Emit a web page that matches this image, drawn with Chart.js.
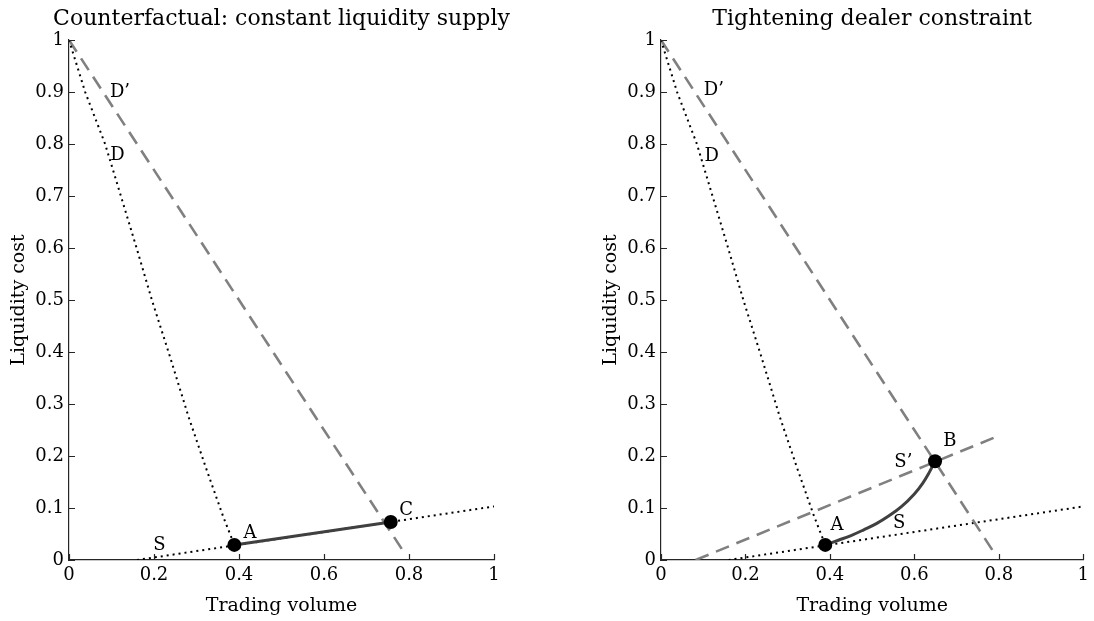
<!DOCTYPE html>
<html>
<head>
<meta charset="utf-8">
<title>Liquidity supply and demand</title>
<script src="https://cdn.jsdelivr.net/npm/chart.js@4"></script>
<style>
    html, body {
        margin: 0;
        padding: 0;
        background: #ffffff;
    }
    #wrap {
        position: relative;
        width: 1094px;
        height: 621px;
    }
    canvas {
        position: absolute;
        top: 0;
    }
    #left-chart { left: 0; }
    #right-chart { left: 547px; }
</style>
</head>
<body>
<div id="wrap">
    <canvas id="left-chart" width="547" height="621"></canvas>
    <canvas id="right-chart" width="547" height="621"></canvas>
</div>
<script>
// ticks
const xTicks = [0, 0.2, 0.4, 0.6, 0.8, 1];
const yTicks = [0, 0.1, 0.2, 0.3, 0.4, 0.5, 0.6, 0.7, 0.8, 0.9, 1];

// demand D (dotted)
const demandX = [0, 0.038, 0.085, 0.122, 0.159, 0.195, 0.238, 0.281, 0.324, 0.363, 0.389];
const demandY = [1, 0.9, 0.8, 0.7, 0.6, 0.5, 0.39, 0.276, 0.173, 0.083, 0.029];

// shifted demand D' (dashed)
const demandShiftX = [0, 0.79];
const demandShiftY = [1, 0.0125];

// supply S (dotted)
const supplyX = [0.16, 1];
const supplyY = [0, 0.103];

// shifted supply S' (dashed, right panel)
const supplyShiftX = [0.082, 0.791];
const supplyShiftY = [0, 0.236];

// left panel: path A -> C
const pathACX = [0.389, 0.757];
const pathACY = [0.029, 0.073];

// right panel: path A -> B
const pathABX = [0.389, 0.42, 0.45, 0.48, 0.51, 0.54, 0.57, 0.60, 0.62, 0.635, 0.649];
const pathABY = [0.029, 0.038, 0.047, 0.058, 0.070, 0.085, 0.103, 0.127, 0.148, 0.168, 0.19];

// equilibrium points
const leftPointX = [0.389, 0.757];
const leftPointY = [0.029, 0.073];
const rightPointX = [0.389, 0.649];
const rightPointY = [0.029, 0.19];

// text labels
const leftLabelText = ["D\u2019", "D", "S", "A", "C"];
const leftLabelX = [0.12, 0.114, 0.2125, 0.426, 0.793];
const leftLabelY = [0.90, 0.779, 0.029, 0.051, 0.096];
const rightLabelText = ["D\u2019", "D", "S\u2019", "S", "A", "B"];
const rightLabelX = [0.125, 0.12, 0.574, 0.564, 0.417, 0.684];
const rightLabelY = [0.904, 0.777, 0.187, 0.0705, 0.066, 0.2275];

const leftTitle = 'Counterfactual: constant liquidity supply';
const rightTitle = 'Tightening dealer constraint';
const xTitle = 'Trading volume';
const yTitle = 'Liquidity cost';

const FONT = '"DejaVu Serif", serif';
const AXIS_COLOR = '#262626';

function toPoints(xs, ys) {
    return xs.map((x, i) => ({ x: x, y: ys[i] }));
}

function dottedLine(xs, ys) {
    return {
        data: toPoints(xs, ys),
        showLine: true,
        borderColor: '#000000',
        borderWidth: 2,
        borderDash: [2, 4],
        pointRadius: 0,
        fill: false
    };
}

function dashedLine(xs, ys) {
    return {
        data: toPoints(xs, ys),
        showLine: true,
        borderColor: '#808080',
        borderWidth: 2.6,
        borderDash: [14, 8],
        pointRadius: 0,
        fill: false
    };
}

function solidPath(xs, ys) {
    return {
        data: toPoints(xs, ys),
        showLine: true,
        borderColor: '#404040',
        borderWidth: 3,
        pointRadius: 0,
        tension: 0.4,
        fill: false
    };
}

function markers(xs, ys) {
    return {
        data: toPoints(xs, ys),
        showLine: false,
        pointRadius: 7,
        pointBackgroundColor: '#000000',
        pointBorderWidth: 0
    };
}

// inward ticks, point labels and panel title
const decorations = {
    id: 'decorations',
    afterDraw(chart, args, opts) {
        const ctx = chart.ctx;
        const area = chart.chartArea;
        const xs = chart.scales.x;
        const ys = chart.scales.y;
        ctx.save();
        ctx.strokeStyle = AXIS_COLOR;
        ctx.lineWidth = 1.2;
        ctx.beginPath();
        xTicks.forEach(v => {
            const px = Math.round(xs.getPixelForValue(v)) + 0.5;
            ctx.moveTo(px, area.bottom);
            ctx.lineTo(px, area.bottom - 6);
        });
        yTicks.forEach(v => {
            const py = Math.round(ys.getPixelForValue(v)) + 0.5;
            ctx.moveTo(area.left, py);
            ctx.lineTo(area.left + 6, py);
        });
        ctx.stroke();

        ctx.fillStyle = '#000000';
        ctx.textAlign = 'center';
        ctx.textBaseline = 'middle';
        ctx.font = '18px ' + FONT;
        opts.text.forEach((t, i) => {
            ctx.fillText(t, xs.getPixelForValue(opts.x[i]), ys.getPixelForValue(opts.y[i]));
        });

        ctx.font = '22px ' + FONT;
        ctx.textBaseline = 'alphabetic';
        ctx.fillText(opts.title, (area.left + area.right) / 2, area.top - 15);
        ctx.restore();
    }
};

function tickText(v) {
    return String(Math.round(v * 10) / 10);
}

function makeChart(canvasId, datasets, labels, title, padding) {
    const ctx = document.getElementById(canvasId).getContext('2d');
    return new Chart(ctx, {
        type: 'scatter',
        data: { datasets: datasets },
        options: {
            responsive: false,
            animation: false,
            devicePixelRatio: 1,
            events: [],
            layout: { padding: padding },
            plugins: {
                legend: { display: false },
                tooltip: { enabled: false },
                decorations: {
                    text: labels.text,
                    x: labels.x,
                    y: labels.y,
                    title: title
                }
            },
            scales: {
                x: {
                    type: 'linear',
                    min: 0,
                    max: 1,
                    afterFit: s => { s.height = 61; },
                    afterBuildTicks: s => { s.ticks = xTicks.map(v => ({ value: v })); },
                    grid: { display: false, drawTicks: false },
                    border: { display: true, color: AXIS_COLOR, width: 1.2 },
                    ticks: {
                        padding: 5,
                        color: '#000000',
                        font: { family: FONT, size: 18 },
                        maxRotation: 0,
                        callback: tickText
                    },
                    title: {
                        display: true,
                        text: xTitle,
                        color: '#000000',
                        font: { family: FONT, size: 19 },
                        padding: { top: 0, bottom: 4 }
                    }
                },
                y: {
                    type: 'linear',
                    min: 0,
                    max: 1,
                    afterFit: s => { s.width = 69; },
                    afterBuildTicks: s => { s.ticks = yTicks.map(v => ({ value: v })); },
                    grid: { display: false, drawTicks: false },
                    border: { display: true, color: AXIS_COLOR, width: 1.2 },
                    ticks: {
                        padding: 5,
                        color: '#000000',
                        font: { family: FONT, size: 18 },
                        callback: tickText
                    },
                    title: {
                        display: true,
                        text: yTitle,
                        color: '#000000',
                        font: { family: FONT, size: 19 },
                        padding: { top: 8, bottom: 0 }
                    }
                }
            }
        },
        plugins: [decorations]
    });
}

// first dataset is drawn on top
makeChart('left-chart', [
    markers(leftPointX, leftPointY),
    solidPath(pathACX, pathACY),
    dottedLine(demandX, demandY),
    dashedLine(demandShiftX, demandShiftY),
    dottedLine(supplyX, supplyY)
], { text: leftLabelText, x: leftLabelX, y: leftLabelY }, leftTitle,
   { top: 40, right: 53, bottom: 0, left: 0 });

makeChart('right-chart', [
    markers(rightPointX, rightPointY),
    solidPath(pathABX, pathABY),
    dottedLine(demandX, demandY),
    dashedLine(demandShiftX, demandShiftY),
    dashedLine(supplyShiftX, supplyShiftY),
    dottedLine(supplyX, supplyY)
], { text: rightLabelText, x: rightLabelX, y: rightLabelY }, rightTitle,
   { top: 40, right: 7, bottom: 0, left: 45 });
</script>
</body>
</html>
